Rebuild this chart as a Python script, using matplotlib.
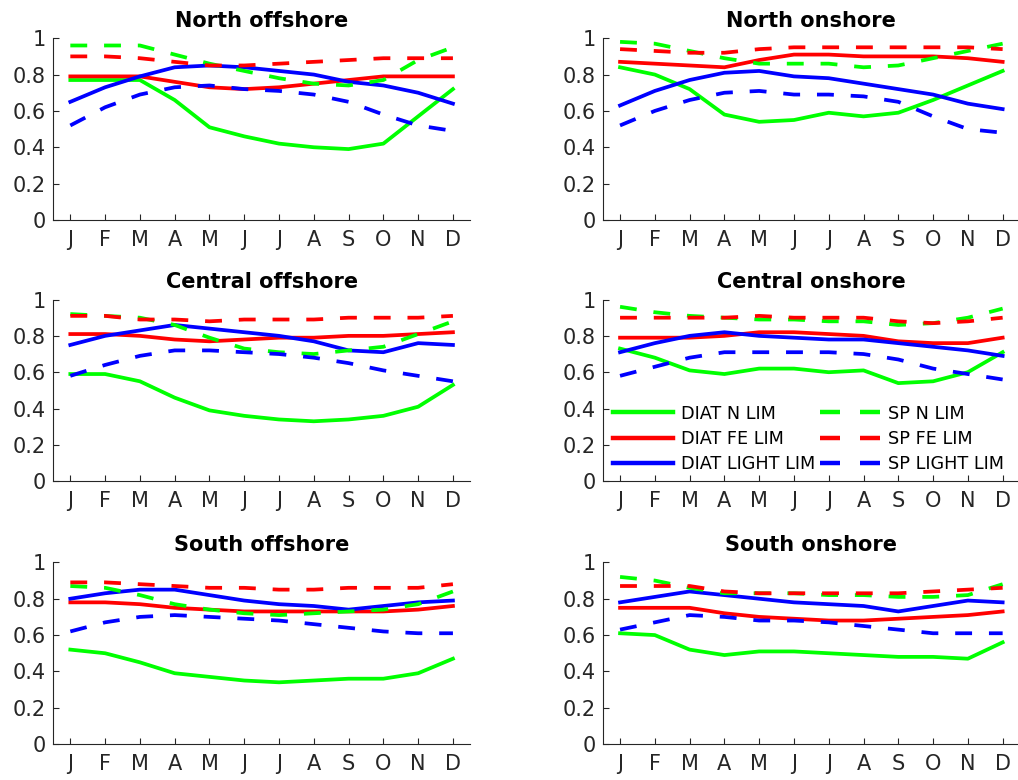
import numpy as np
import matplotlib
matplotlib.use('Agg')
import matplotlib.pyplot as plt

plt.rcParams['font.family'] = ['DejaVu Sans']

months = ['J', 'F', 'M', 'A', 'M', 'J', 'J', 'A', 'S', 'O', 'N', 'D']
regions = ['North offshore', 'North onshore', 'Central offshore',
           'Central onshore', 'South offshore', 'South onshore']
series_names = ['DIAT N LIM', 'DIAT FE LIM', 'DIAT LIGHT LIM',
                'SP N LIM', 'SP FE LIM', 'SP LIGHT LIM']

# monthly limitation terms, one list per series, per region
north_off = [
    [0.77, 0.77, 0.77, 0.66, 0.51, 0.46, 0.42, 0.40, 0.39, 0.42, 0.57, 0.72],
    [0.79, 0.79, 0.79, 0.76, 0.73, 0.72, 0.73, 0.75, 0.77, 0.79, 0.79, 0.79],
    [0.65, 0.73, 0.79, 0.84, 0.85, 0.84, 0.82, 0.80, 0.76, 0.74, 0.70, 0.64],
    [0.96, 0.96, 0.96, 0.91, 0.86, 0.82, 0.78, 0.75, 0.74, 0.77, 0.88, 0.95],
    [0.90, 0.90, 0.89, 0.87, 0.85, 0.85, 0.86, 0.87, 0.88, 0.89, 0.89, 0.89],
    [0.52, 0.62, 0.69, 0.73, 0.74, 0.72, 0.71, 0.69, 0.65, 0.58, 0.52, 0.49],
]
north_on = [
    [0.84, 0.80, 0.72, 0.58, 0.54, 0.55, 0.59, 0.57, 0.59, 0.66, 0.74, 0.82],
    [0.87, 0.86, 0.85, 0.84, 0.88, 0.91, 0.91, 0.90, 0.90, 0.90, 0.89, 0.87],
    [0.63, 0.71, 0.77, 0.81, 0.82, 0.79, 0.78, 0.75, 0.72, 0.69, 0.64, 0.61],
    [0.98, 0.97, 0.93, 0.89, 0.86, 0.86, 0.86, 0.84, 0.85, 0.89, 0.93, 0.97],
    [0.94, 0.93, 0.92, 0.92, 0.94, 0.95, 0.95, 0.95, 0.95, 0.95, 0.95, 0.94],
    [0.52, 0.60, 0.66, 0.70, 0.71, 0.69, 0.69, 0.68, 0.65, 0.57, 0.50, 0.48],
]
central_off = [
    [0.59, 0.59, 0.55, 0.46, 0.39, 0.36, 0.34, 0.33, 0.34, 0.36, 0.41, 0.53],
    [0.81, 0.81, 0.80, 0.78, 0.77, 0.78, 0.79, 0.79, 0.80, 0.80, 0.81, 0.82],
    [0.75, 0.80, 0.83, 0.86, 0.84, 0.82, 0.80, 0.77, 0.72, 0.71, 0.76, 0.75],
    [0.92, 0.91, 0.90, 0.86, 0.79, 0.73, 0.71, 0.70, 0.72, 0.74, 0.81, 0.88],
    [0.91, 0.91, 0.89, 0.89, 0.88, 0.89, 0.89, 0.89, 0.90, 0.90, 0.90, 0.91],
    [0.58, 0.64, 0.69, 0.72, 0.72, 0.71, 0.70, 0.68, 0.65, 0.61, 0.58, 0.55],
]
central_on = [
    [0.73, 0.68, 0.61, 0.59, 0.62, 0.62, 0.60, 0.61, 0.54, 0.55, 0.60, 0.71],
    [0.79, 0.79, 0.79, 0.80, 0.82, 0.82, 0.81, 0.80, 0.77, 0.76, 0.76, 0.79],
    [0.71, 0.76, 0.80, 0.82, 0.80, 0.79, 0.78, 0.78, 0.76, 0.74, 0.72, 0.69],
    [0.96, 0.93, 0.91, 0.90, 0.89, 0.89, 0.88, 0.88, 0.86, 0.87, 0.90, 0.95],
    [0.90, 0.90, 0.90, 0.90, 0.91, 0.90, 0.90, 0.90, 0.88, 0.87, 0.88, 0.90],
    [0.58, 0.63, 0.68, 0.71, 0.71, 0.71, 0.71, 0.70, 0.67, 0.62, 0.59, 0.56],
]
south_off = [
    [0.52, 0.50, 0.45, 0.39, 0.37, 0.35, 0.34, 0.35, 0.36, 0.36, 0.39, 0.47],
    [0.78, 0.78, 0.77, 0.75, 0.74, 0.73, 0.73, 0.73, 0.73, 0.73, 0.74, 0.76],
    [0.80, 0.83, 0.85, 0.85, 0.82, 0.79, 0.77, 0.76, 0.74, 0.76, 0.78, 0.79],
    [0.87, 0.86, 0.82, 0.77, 0.74, 0.72, 0.71, 0.72, 0.73, 0.74, 0.77, 0.84],
    [0.89, 0.89, 0.88, 0.87, 0.86, 0.86, 0.85, 0.85, 0.86, 0.86, 0.86, 0.88],
    [0.62, 0.67, 0.70, 0.71, 0.70, 0.69, 0.68, 0.66, 0.64, 0.62, 0.61, 0.61],
]
south_on = [
    [0.61, 0.60, 0.52, 0.49, 0.51, 0.51, 0.50, 0.49, 0.48, 0.48, 0.47, 0.56],
    [0.75, 0.75, 0.75, 0.72, 0.70, 0.69, 0.68, 0.68, 0.69, 0.70, 0.71, 0.73],
    [0.78, 0.81, 0.84, 0.82, 0.80, 0.78, 0.77, 0.76, 0.73, 0.76, 0.79, 0.78],
    [0.92, 0.90, 0.86, 0.83, 0.83, 0.83, 0.82, 0.82, 0.81, 0.81, 0.82, 0.88],
    [0.87, 0.87, 0.87, 0.84, 0.83, 0.83, 0.83, 0.83, 0.83, 0.84, 0.85, 0.86],
    [0.63, 0.67, 0.71, 0.70, 0.68, 0.68, 0.67, 0.65, 0.63, 0.61, 0.61, 0.61],
]
all_data = [north_off, north_on, central_off, central_on, south_off, south_on]

colors = ['#00ff00', '#ff0000', '#0000ff'] * 2
styles = ['-'] * 3 + ['--'] * 3

fig = plt.figure(figsize=(10.18, 7.8), dpi=100)
lefts = [0.052, 0.592]
bottoms = [0.718, 0.383, 0.046]
w, h = 0.41, 0.233

x = np.arange(1, 13)
axes = []
for i, (title, data) in enumerate(zip(regions, all_data)):
    ax = fig.add_axes([lefts[i % 2], bottoms[i // 2], w, h])
    for vals, c, ls, name in zip(data, colors, styles, series_names):
        if ls == '--':
            ax.plot(x, vals, color=c, lw=2.7, ls=(0, (4.5, 4.5)), label=name)
        else:
            ax.plot(x, vals, color=c, lw=2.7, label=name)
    ax.set_xlim(0.5, 12.5)
    ax.set_ylim(0, 1)
    ax.set_xticks(x)
    ax.set_xticklabels(months)
    ax.set_yticks([0, 0.2, 0.4, 0.6, 0.8, 1])
    ax.set_yticklabels(['0', '0.2', '0.4', '0.6', '0.8', '1'])
    ax.tick_params(direction='in', length=4, labelsize=15, colors='#262626',
                   width=0.8)
    ax.tick_params(axis='x', pad=7)
    ax.tick_params(axis='y', pad=5)
    for s in ['top', 'right']:
        ax.spines[s].set_visible(False)
    for s in ['left', 'bottom']:
        ax.spines[s].set_color('#262626')
        ax.spines[s].set_linewidth(0.8)
    ax.set_title(title, fontsize=15, fontweight='bold', pad=8)
    axes.append(ax)

leg = axes[3].legend(ncol=2, frameon=False, fontsize=12.7, loc='lower left',
                     bbox_to_anchor=(0.0, -0.015), handlelength=3.4,
                     columnspacing=0.25, handletextpad=0.45, labelspacing=0.42,
                     borderaxespad=0.2)
for line in leg.get_lines():
    line.set_linewidth(3.2)

fig.savefig('out.png', dpi=100)
